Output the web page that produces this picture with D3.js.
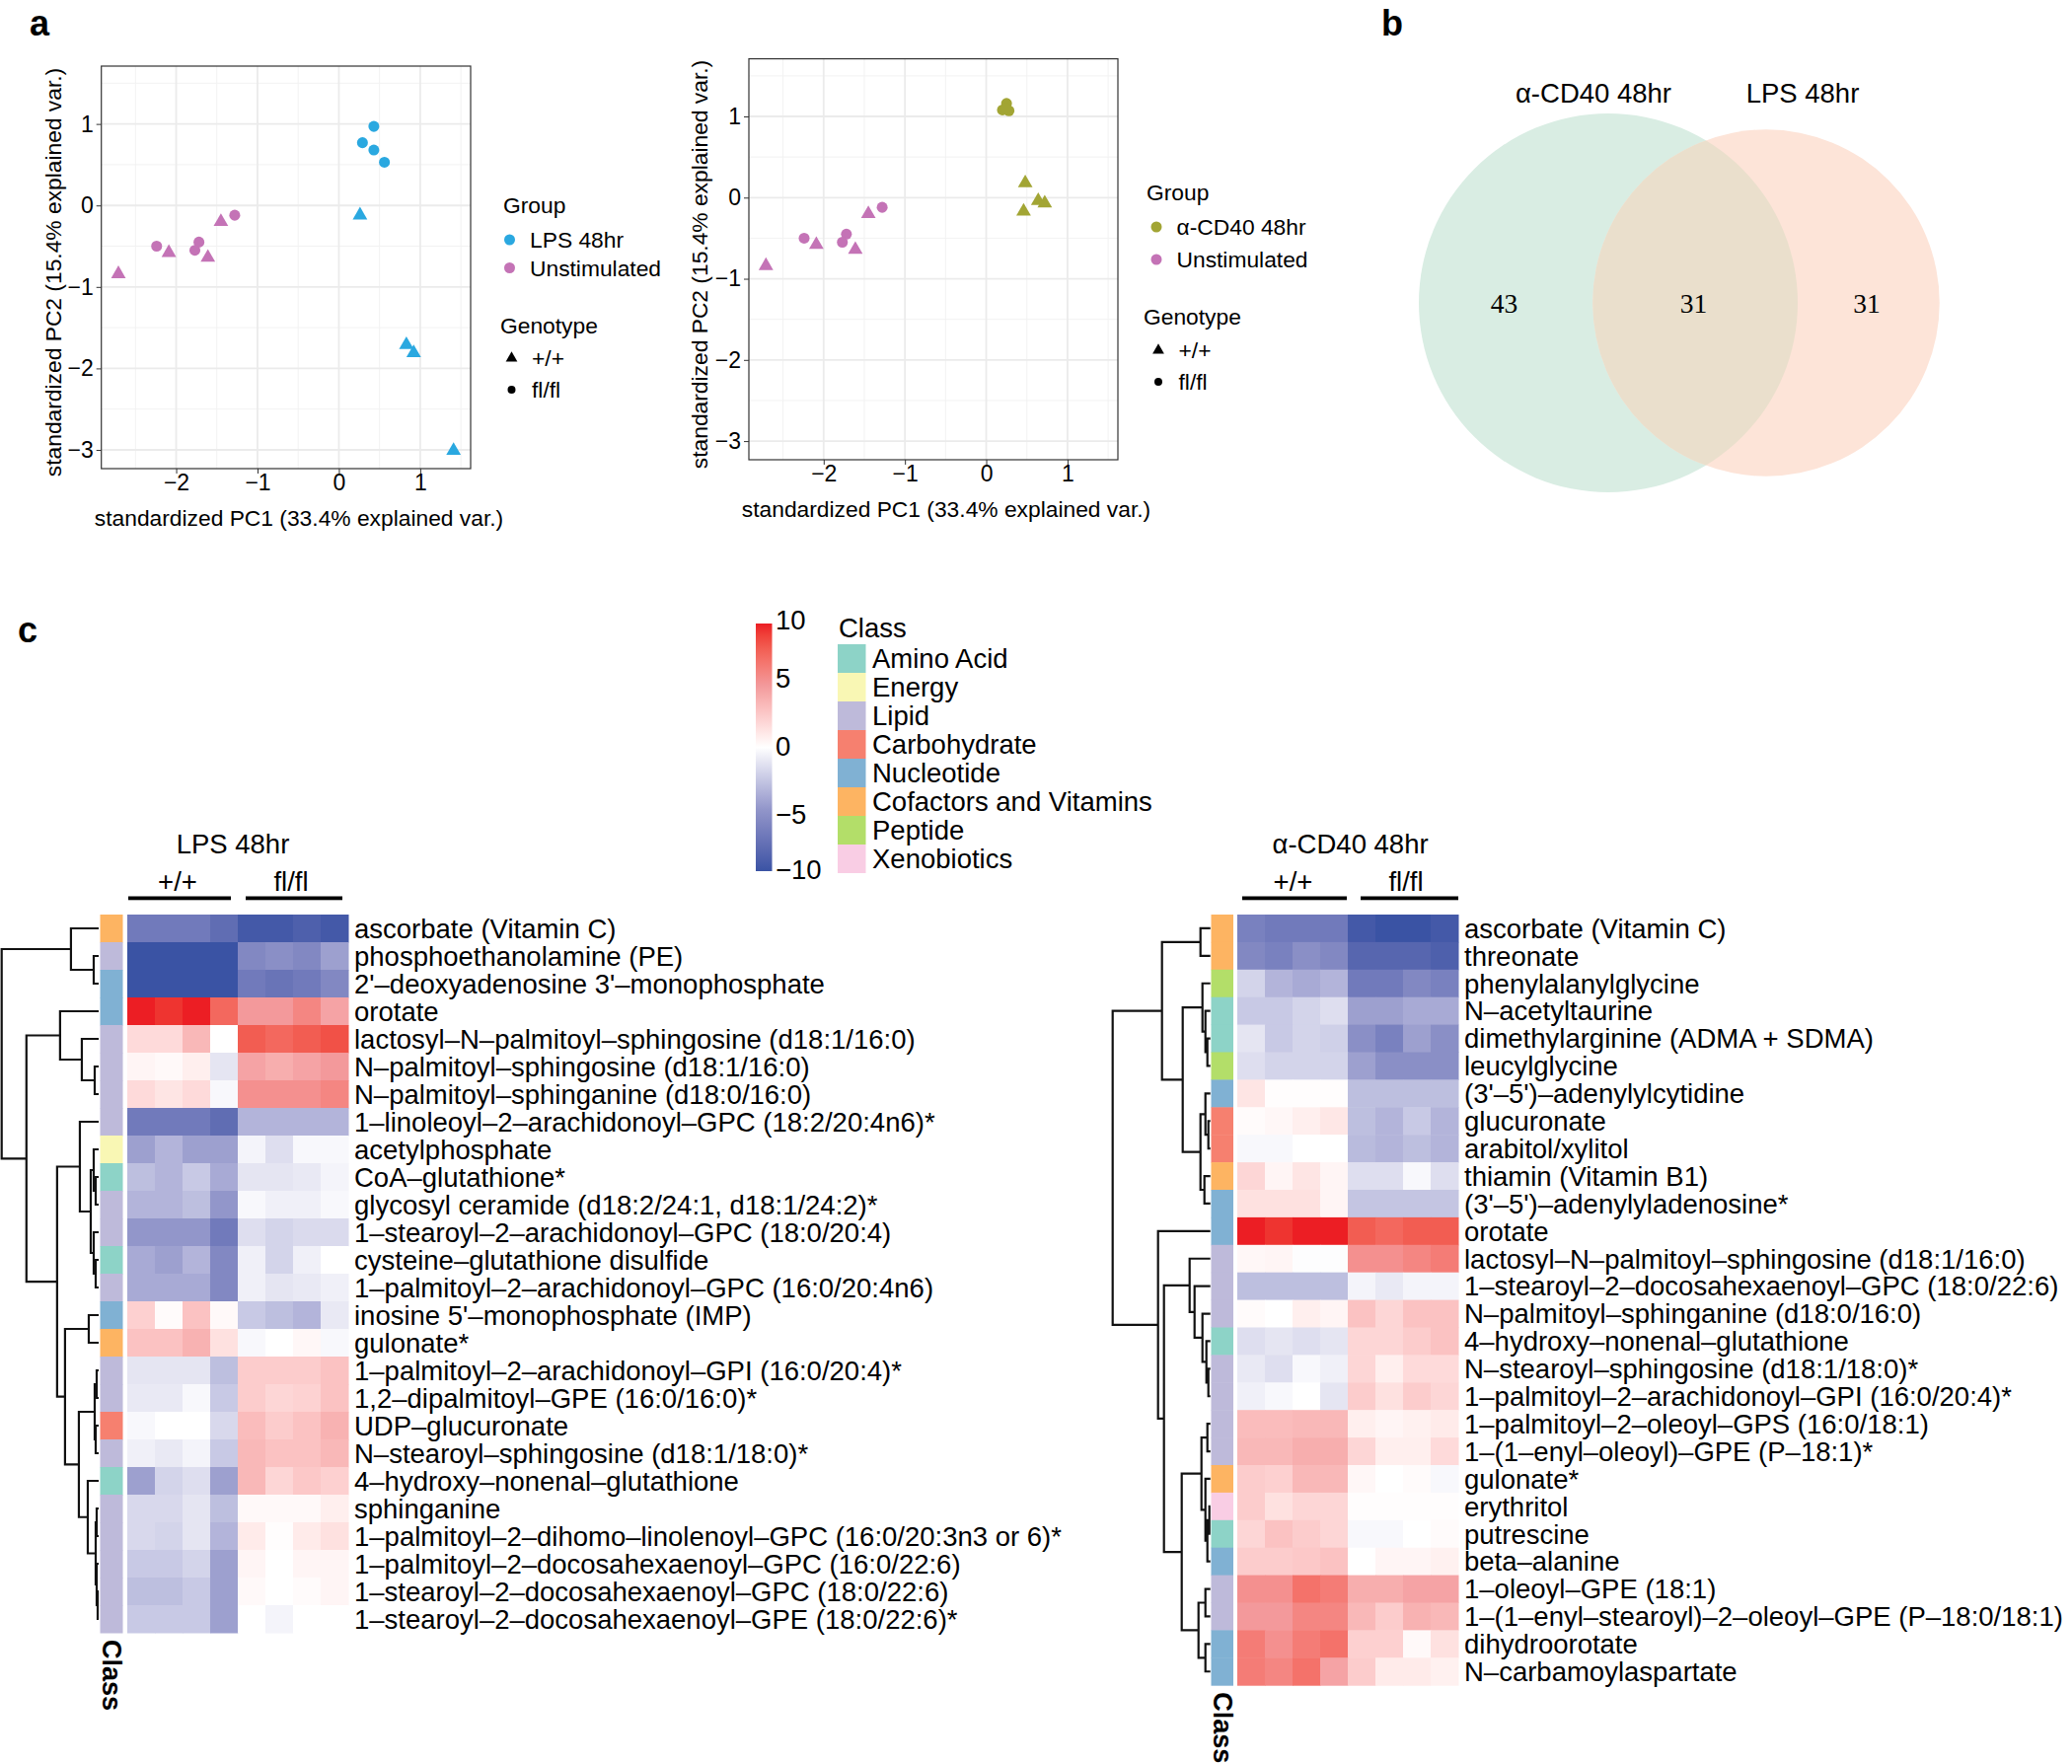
<!DOCTYPE html>
<html><head><meta charset="utf-8">
<script src="https://cdn.jsdelivr.net/npm/d3@7"></script>
<style>
body{margin:0;background:#fff}
svg{display:block}
text{font-family:"Liberation Sans",Arial,Helvetica,sans-serif;fill:#000}
</style>
</head><body>
<svg id="fig" width="2100" height="1788"></svg>
<script>
// ---------------- DATA ----------------
// PCA points: [PC1, PC2, genotype]
const unstimPoints = [[-2.24,-0.50,"fl/fl"],[-1.72,-0.45,"fl/fl"],[-1.77,-0.55,"fl/fl"],[-1.28,-0.12,"fl/fl"],
  [-2.71,-0.84,"+/+"],[-2.09,-0.58,"+/+"],[-1.61,-0.64,"+/+"],[-1.45,-0.20,"+/+"]];
const lpsPoints = [[0.43,0.97,"fl/fl"],[0.29,0.77,"fl/fl"],[0.43,0.68,"fl/fl"],[0.56,0.53,"fl/fl"],
  [0.26,-0.12,"+/+"],[0.83,-1.71,"+/+"],[0.92,-1.81,"+/+"],[1.41,-3.01,"+/+"]];
const cd40Points = [[0.25,1.16,"fl/fl"],[0.20,1.08,"fl/fl"],[0.28,1.07,"fl/fl"],[0.24,1.10,"fl/fl"],
  [0.48,0.18,"+/+"],[0.64,-0.04,"+/+"],[0.72,-0.07,"+/+"],[0.46,-0.17,"+/+"]];
const pcaXTicks = [-2,-1,0,1];
const pcaYTicks = [-3,-2,-1,0,1];
const pcaXMinor = [-2.5,-1.5,-0.5,0.5,1.5];
const pcaYMinor = [-2.5,-1.5,-0.5,0.5,1.5];
const genotypes = ["+/+","fl/fl"];

// Venn
const vennSets = [{name:"α-CD40 48hr", size:74},{name:"LPS 48hr", size:62}];
const vennCounts = [43,31,31];

// Heatmap
const classNames = ["Amino Acid","Energy","Lipid","Carbohydrate","Nucleotide","Cofactors and Vitamins","Peptide","Xenobiotics"];
const classColors = ["#8DD3C7","#F9F7B4","#BEBADA","#F6806F","#80B1D3","#FDB462","#B3DE69","#F9CDE4"];
const colorTicks = [10,5,0,-5,-10];
const groupCols = ["+/+","fl/fl"];

const lpsRows = ["ascorbate (Vitamin C)","phosphoethanolamine (PE)","2'–deoxyadenosine 3'–monophosphate","orotate",
 "lactosyl–N–palmitoyl–sphingosine (d18:1/16:0)","N–palmitoyl–sphingosine (d18:1/16:0)","N–palmitoyl–sphinganine (d18:0/16:0)",
 "1–linoleoyl–2–arachidonoyl–GPC (18:2/20:4n6)*","acetylphosphate","CoA–glutathione*","glycosyl ceramide (d18:2/24:1, d18:1/24:2)*",
 "1–stearoyl–2–arachidonoyl–GPC (18:0/20:4)","cysteine–glutathione disulfide","1–palmitoyl–2–arachidonoyl–GPC (16:0/20:4n6)",
 "inosine 5'–monophosphate (IMP)","gulonate*","1–palmitoyl–2–arachidonoyl–GPI (16:0/20:4)*","1,2–dipalmitoyl–GPE (16:0/16:0)*",
 "UDP–glucuronate","N–stearoyl–sphingosine (d18:1/18:0)*","4–hydroxy–nonenal–glutathione","sphinganine",
 "1–palmitoyl–2–dihomo–linolenoyl–GPC (16:0/20:3n3 or 6)*","1–palmitoyl–2–docosahexaenoyl–GPC (16:0/22:6)",
 "1–stearoyl–2–docosahexaenoyl–GPC (18:0/22:6)","1–stearoyl–2–docosahexaenoyl–GPE (18:0/22:6)*"];
// class index per row (into classNames)
const lpsClass = [5,2,4,4,2,2,2,2,1,0,2,2,0,2,4,5,2,2,3,2,0,2,2,2,2,2];
// 4 x +/+ then 4 x fl/fl
const lpsValues = [
 [-7,-7,-7,-8, -9.5,-9.5,-9,-9.5],
 [-10,-10,-10,-10, -6,-5.5,-6,-4.5],
 [-10,-10,-10,-10, -7,-7.5,-7,-6],
 [10,9.5,10,7.5, 5,5,6,4.5],
 [1.8,1.8,3.5,0, 8,7.5,8,8.5],
 [0.5,0.3,0.8,-1.2, 4.5,4,4.5,5],
 [1.8,1.3,1.8,-0.3, 5.5,5.5,5.5,6],
 [-7,-7,-7,-8, -3.5,-3.5,-3.5,-3.5],
 [-4.5,-3.5,-4.5,-4.5, -0.5,-1.5,-0.3,-0.3],
 [-3,-3.5,-2.5,-4, -1.2,-1.2,-1,-0.5],
 [-3.5,-3.5,-3,-5, -0.3,-0.7,-0.7,-0.3],
 [-5,-5,-5,-7, -1.5,-2,-1.7,-1.7],
 [-4,-4.5,-3.5,-6, -0.7,-2,-0.7,0],
 [-4,-4,-4,-6, -0.7,-1.2,-1,-0.7],
 [2.3,0.2,3,0.3, -2.5,-3,-3.5,-1],
 [3,3,3.8,1.5, -0.3,0,0.4,-0.3],
 [-1.2,-1.2,-1.2,-3, 2.5,2.5,2.5,3],
 [-1,-1,-0.3,-2.5, 2.5,2,2.2,3],
 [-0.3,0,0,-1.8, 3.3,2.5,3,3.8],
 [-0.7,-1,-0.5,-2.5, 3.5,3,3,3.5],
 [-4.5,-2,-1.5,-4.5, 3.5,2,2.7,2.3],
 [-1.8,-1.8,-1.2,-3, 0.3,0.3,0.3,0.8],
 [-1.8,-2,-1.2,-3.5, 1,0.1,1,1.5],
 [-2.5,-2.5,-2,-4.5, 0.5,0,0.5,0.5],
 [-3,-3,-2.5,-4.5, 0.3,0,0.2,0.5],
 [-2.5,-2.5,-2.5,-4.5, 0,-0.5,0,0]
];
// dendrogram: [height, left, right], leaves = row index
const lpsTree = [98,
  [28, 0, [5, 1, 2]],
  [73,
    [39, 3, [17, 4, [4, 5, 6]]],
    [42,
      [19, 7, [8, [5, 8, [3, 9, 10]], [5, 11, [3, 12, 13]]]],
      [34, [10, 14, 15],
        [20, [4, [2, 16, 17], [3, 18, 19]],
             [11, 20, [3, [2, 21, 22], [2, 23, [1, 24, 25]]]]]]]]];

const cd40Rows = ["ascorbate (Vitamin C)","threonate","phenylalanylglycine","N–acetyltaurine","dimethylarginine (ADMA + SDMA)",
 "leucylglycine","(3'–5')–adenylylcytidine","glucuronate","arabitol/xylitol","thiamin (Vitamin B1)","(3'–5')–adenylyladenosine*",
 "orotate","lactosyl–N–palmitoyl–sphingosine (d18:1/16:0)","1–stearoyl–2–docosahexaenoyl–GPC (18:0/22:6)",
 "N–palmitoyl–sphinganine (d18:0/16:0)","4–hydroxy–nonenal–glutathione","N–stearoyl–sphingosine (d18:1/18:0)*",
 "1–palmitoyl–2–arachidonoyl–GPI (16:0/20:4)*","1–palmitoyl–2–oleoyl–GPS (16:0/18:1)","1–(1–enyl–oleoyl)–GPE (P–18:1)*",
 "gulonate*","erythritol","putrescine","beta–alanine","1–oleoyl–GPE (18:1)","1–(1–enyl–stearoyl)–2–oleoyl–GPE (P–18:0/18:1)",
 "dihydroorotate","N–carbamoylaspartate"];
const cd40Class = [5,5,6,0,0,6,4,3,3,5,4,4,2,2,2,0,2,2,2,2,5,7,0,4,2,2,4,4];
const cd40Values = [
 [-6.5,-7,-7,-7, -9.5,-10,-10,-9.5],
 [-6,-6.5,-5.5,-6, -8.5,-8.5,-8.5,-9],
 [-2,-3.5,-4,-3.5, -7,-7,-6,-6.5],
 [-2.5,-2.5,-2,-1.5, -4.5,-4.5,-4,-4],
 [-1.2,-2.5,-2,-2.2, -5.5,-6.5,-4.5,-5.5],
 [-1.5,-2,-2,-2, -4.5,-5.5,-5.5,-5.5],
 [1.3,0.1,0.1,0.1, -3,-3,-3,-3],
 [0.2,0.4,0.8,1.2, -3,-3.5,-2.5,-3.5],
 [-0.3,-0.3,0,0, -3.2,-3.5,-3,-3.5],
 [2,0.5,1.3,0.5, -1.5,-1.5,-0.3,-1.5],
 [1.5,1.5,1.5,0.5, -2.7,-2.7,-2.7,-2.7],
 [10,9.5,10,10, 8,7.5,8,8],
 [0.4,0.5,-0.1,-0.1, 5.5,5.5,6,6.5],
 [-3,-3,-3,-3, -0.5,-1,-0.5,-0.5],
 [0.2,0,0.8,0.5, 3,2,3,3],
 [-1.5,-1.2,-1.5,-1.2, 2,2,2.5,3],
 [-1,-1.5,-0.3,-0.7, 2,0.8,1.8,1.8],
 [-0.7,-0.3,0,-1.2, 2.5,1.5,2.5,2],
 [3.3,3.3,3.5,3.5, 0.8,0.5,0.7,1],
 [3.5,3.5,4,4, 2,0.8,0.8,1.8],
 [2.5,2.3,3.5,3.5, 0.4,0,0.2,-0.3],
 [2.5,1.5,2,2, 0.1,0.1,0.1,0.1],
 [2,3,2.5,2, -0.3,-0.3,0,0.2],
 [2.5,2.5,2.7,3, 0,0.5,0.5,0.7],
 [5.5,5.5,7,6.5, 4,4,4.5,4.5],
 [5,5,6,6, 3.5,2.5,3.8,3.5],
 [6.5,5.5,6.5,7, 2.3,2.3,0.3,1.5],
 [6.5,6,7,4.5, 2.5,1,1,0.7]
];
const cd40Tree = [99,
  [49, [10, 0, 1], [28, [8, 2, [5, 3, [3, 4, 5]]], [10, [5, 6, [2, 7, 8]], [6, 9, 10]]]],
  [53, 11,
    [47,
      [21, 12, [16, 13, [8, 14, [4, 15, [2, 16, 17]]]]],
      [29, [9, [3, 18, 19], [5, 20, [3, [1, 21, 22], 23]]], [12, [5, 24, 25], [5, 26, 27]]]]]];

// ---------------- DRAW ----------------
const svg = d3.select("#fig");
const FS = 22.8;

// panel letters
[["a",30,36],["b",1400,36],["c",18,651]].forEach(([t,x,y])=>{
  svg.append("text").attr("x",x).attr("y",y).attr("font-size",36).attr("font-weight","bold").text(t);
});

// ---- PCA ----
const sym = g => d3.symbol().type(g==="+/+"?d3.symbolTriangle:d3.symbolCircle).size(g==="+/+"?95:96)();
function pca(cfg){
  const g = svg.append("g");
  const x = d3.scaleLinear().domain([-2.92,1.62]).range([cfg.x0,cfg.x1]);
  const y = d3.scaleLinear().domain([-3.23,1.71]).range([cfg.y1,cfg.y0]);
  g.selectAll(".mx").data(pcaXMinor).join("line").attr("x1",d=>x(d)).attr("x2",d=>x(d)).attr("y1",cfg.y0).attr("y2",cfg.y1).attr("stroke","#F2F2F2").attr("stroke-width",1);
  g.selectAll(".my").data(pcaYMinor).join("line").attr("y1",d=>y(d)).attr("y2",d=>y(d)).attr("x1",cfg.x0).attr("x2",cfg.x1).attr("stroke","#F2F2F2").attr("stroke-width",1);
  g.selectAll(".Mx").data(pcaXTicks).join("line").attr("x1",d=>x(d)).attr("x2",d=>x(d)).attr("y1",cfg.y0).attr("y2",cfg.y1).attr("stroke","#EBEBEB").attr("stroke-width",1.8);
  g.selectAll(".My").data(pcaYTicks).join("line").attr("y1",d=>y(d)).attr("y2",d=>y(d)).attr("x1",cfg.x0).attr("x2",cfg.x1).attr("stroke","#EBEBEB").attr("stroke-width",1.8);
  const fmt = d=>d<0?"−"+Math.abs(d):d;
  const xa = g.append("g").attr("transform",`translate(0,${cfg.y1})`).call(d3.axisBottom(x).tickValues(pcaXTicks).tickSize(5).tickPadding(1).tickFormat(fmt));
  const ya = g.append("g").attr("transform",`translate(${cfg.x0},0)`).call(d3.axisLeft(y).tickValues(pcaYTicks).tickSize(5).tickPadding(3).tickFormat(fmt));
  [xa,ya].forEach(a=>{a.select(".domain").remove();a.selectAll("line").attr("stroke","#333");a.selectAll("text").attr("font-size",23).attr("fill","#4D4D4D").attr("font-family","Liberation Sans");});
  g.append("rect").attr("x",cfg.x0).attr("y",cfg.y0).attr("width",cfg.x1-cfg.x0).attr("height",cfg.y1-cfg.y0).attr("fill","none").attr("stroke","#333").attr("stroke-width",1.2);
  const all = unstimPoints.map(p=>[...p,"#C473B6"]).concat(cfg.pts.map(p=>[...p,cfg.color]));
  g.selectAll(".pt").data(all).join("path").attr("d",d=>sym(d[2])).attr("fill",d=>d[3])
    .attr("transform",d=>`translate(${x(d[0])},${y(d[1])})`);
  g.append("text").attr("x",cfg.xtx).attr("y",cfg.xty).attr("text-anchor","middle").attr("dominant-baseline","central").attr("font-size",FS).text("standardized PC1 (33.4% explained var.)");
  g.append("text").attr("transform",`translate(${cfg.ytx},${cfg.yty}) rotate(-90)`).attr("text-anchor","middle").attr("dominant-baseline","central").attr("font-size",FS).text("standardized PC2 (15.4% explained var.)");
  const L = cfg.leg;
  g.append("text").attr("x",L.x).attr("y",L.gy).attr("dominant-baseline","central").attr("font-size",FS).text("Group");
  [[cfg.name,cfg.color],["Unstimulated","#C473B6"]].forEach((d,i)=>{
    const yy = L.g1 + i*L.step;
    g.append("circle").attr("cx",L.sx).attr("cy",yy).attr("r",5.5).attr("fill",d[1]);
    g.append("text").attr("x",L.tx).attr("y",yy).attr("dominant-baseline","central").attr("font-size",FS).text(d[0]);
  });
  g.append("text").attr("x",L.x-3).attr("y",L.ty).attr("dominant-baseline","central").attr("font-size",FS).text("Genotype");
  genotypes.forEach((gt,i)=>{
    const yy = L.t1 + i*L.step2;
    g.append("path").attr("d",d3.symbol().type(gt==="+/+"?d3.symbolTriangle:d3.symbolCircle).size(gt==="+/+"?60:50)()).attr("fill","#000").attr("transform",`translate(${L.sx+2},${yy})`);
    g.append("text").attr("x",L.tx+2).attr("y",yy).attr("dominant-baseline","central").attr("font-size",FS).text(gt);
  });
}
pca({x0:102.7,x1:477,y0:67,y1:475,pts:lpsPoints,color:"#2AA8E0",name:"LPS 48hr",
  xtx:303,xty:525,ytx:53.6,yty:276,
  leg:{x:510,gy:208,sx:516.5,tx:537,g1:243,step:28.5,ty:330,t1:363,step2:32}});
pca({x0:759,x1:1133,y0:59.6,y1:466,pts:cd40Points,color:"#A2A534",name:"α-CD40 48hr",
  xtx:959,xty:516,ytx:709,yty:268,
  leg:{x:1162,gy:195,sx:1172,tx:1192.5,g1:230,step:33,ty:321,t1:355,step2:32}});

// ---- Venn ----
const defs = svg.append("defs");
{
  const rS = d3.scaleSqrt().domain([0,74]).range([0,192]);
  const cx = [1630,1790], cy = 307;
  defs.append("clipPath").attr("id","clipL").append("circle").attr("cx",cx[0]).attr("cy",cy).attr("r",rS(vennSets[0].size));
  svg.append("circle").attr("cx",cx[0]).attr("cy",cy).attr("r",rS(vennSets[0].size)).attr("fill","#D9EDE3");
  svg.append("circle").attr("cx",cx[1]).attr("cy",cy).attr("r",rS(vennSets[1].size)).attr("fill","#FDE4D8");
  svg.append("circle").attr("cx",cx[1]).attr("cy",cy).attr("r",rS(vennSets[1].size)).attr("fill","#EADFCC").attr("clip-path","url(#clipL)");
  [[1615,vennSets[0].name],[1827,vennSets[1].name]].forEach(([x,t])=>
    svg.append("text").attr("x",x).attr("y",104).attr("text-anchor","middle").attr("font-size",27.5).text(t));
  [1524.6,1716.5,1892].forEach((x,i)=>
    svg.append("text").attr("x",x).attr("y",317).attr("text-anchor","middle").attr("font-size",27.5)
      .style("font-family","'Liberation Serif',serif").text(vennCounts[i]));
}

// ---- colour scale ----
const heat = d3.scaleLinear().domain([-10,-5,0,5,10])
  .range(["#3A53A4","#9296CA","#FFFFFF","#F3999B","#EC1E24"]).interpolate(d3.interpolateLab).clamp(true);

// colour bar
{
  const grad = defs.append("linearGradient").attr("id","cbar").attr("x1",0).attr("x2",0).attr("y1",1).attr("y2",0);
  d3.range(0,21).forEach(i=>grad.append("stop").attr("offset",i/20).attr("stop-color",heat(-10+i)));
  const cy = d3.scaleLinear().domain([-10,10]).range([883,632]);
  svg.append("rect").attr("x",766).attr("y",632).attr("width",16.5).attr("height",251).attr("fill","url(#cbar)");
  const adj = {10:-4,5:-8,0:-2,"-5":5,"-10":-2};
  colorTicks.forEach(v=>svg.append("text").attr("x",786).attr("y",cy(v)+adj[v]+10).attr("font-size",27.5)
    .text(v<0?"−"+Math.abs(v):v));
  svg.append("text").attr("x",850).attr("y",646).attr("font-size",27.5).text("Class");
  classNames.forEach((c,i)=>{
    svg.append("rect").attr("x",849).attr("y",653+i*29).attr("width",28.5).attr("height",29).attr("fill",classColors[i]);
    svg.append("text").attr("x",884).attr("y",653+i*29+24).attr("font-size",27.5).text(c);
  });
}

// ---- heatmaps ----
function heatmap(cfg){
  const g = svg.append("g");
  const nR = cfg.rows.length;
  const rowY = d3.scaleBand().domain(d3.range(nR)).range([cfg.top, cfg.top+nR*cfg.rowH]);
  const colX = d3.scaleBand().domain(d3.range(8)).range([cfg.cellX, cfg.cellX+8*28]);
  cfg.values.forEach((row,i)=>{
    g.selectAll(null).data(row).join("rect")
      .attr("x",(d,j)=>colX(j)).attr("y",rowY(i)).attr("width",colX.bandwidth()+0.5).attr("height",rowY.bandwidth()+0.5)
      .attr("fill",d=>heat(d));
  });
  g.selectAll(".cls").data(cfg.cls).join("rect").attr("x",cfg.stripX).attr("y",(d,i)=>rowY(i))
    .attr("width",cfg.stripW).attr("height",rowY.bandwidth()+0.5).attr("fill",d=>classColors[d]);
  g.selectAll(".lab").data(cfg.rows).join("text").attr("x",cfg.labelX).attr("y",(d,i)=>rowY(i)+rowY.bandwidth()/2+9.8)
    .attr("font-size",27.5).text(d=>d);
  g.append("text").attr("x",cfg.titleX).attr("y",865).attr("text-anchor","middle").attr("font-size",27.5).text(cfg.title);
  groupCols.forEach((t,k)=>{
    g.append("text").attr("x",cfg.subX[k]).attr("y",903).attr("text-anchor","middle").attr("font-size",27.5).text(t);
    g.append("rect").attr("x",cfg.bars[k][0]).attr("y",908.5).attr("width",cfg.bars[k][1]-cfg.bars[k][0]).attr("height",3.8).attr("fill","#000");
  });
  g.append("text").attr("transform",`translate(${cfg.stripX+cfg.stripW/2},${cfg.top+nR*cfg.rowH+7}) rotate(90)`)
    .attr("dominant-baseline","central").attr("font-size",27).attr("font-weight","bold").text("Class");
  const hx = d3.scaleLinear().domain([0,cfg.tree[0]]).range([cfg.leafX,cfg.rootX]);
  const path = d3.path();
  function walk(n){
    if(typeof n==="number") return {y: rowY(n)+rowY.bandwidth()/2, h:0};
    const a = walk(n[1]), b = walk(n[2]);
    const x = hx(n[0]);
    path.moveTo(hx(a.h),a.y); path.lineTo(x,a.y); path.lineTo(x,b.y); path.lineTo(hx(b.h),b.y);
    return {y:(a.y+b.y)/2, h:n[0]};
  }
  walk(cfg.tree);
  g.append("path").attr("d",path.toString()).attr("fill","none").attr("stroke","#111").attr("stroke-width",2.2);
}
heatmap({rows:lpsRows,cls:lpsClass,values:lpsValues,tree:lpsTree,top:927,rowH:28,
  cellX:129,stripX:101.5,stripW:23,labelX:359,leafX:100,rootX:1.7,
  title:"LPS 48hr",titleX:236,subX:[180,295],bars:[[130,234],[249,347]]});
heatmap({rows:cd40Rows,cls:cd40Class,values:cd40Values,tree:cd40Tree,top:927,rowH:27.9,
  cellX:1254,stripX:1227.5,stripW:22.5,labelX:1484,leafX:1226.7,rootX:1127.7,
  title:"α-CD40 48hr",titleX:1368.6,subX:[1310.5,1425],bars:[[1259,1365],[1379,1478]]});
</script>
</body></html>
